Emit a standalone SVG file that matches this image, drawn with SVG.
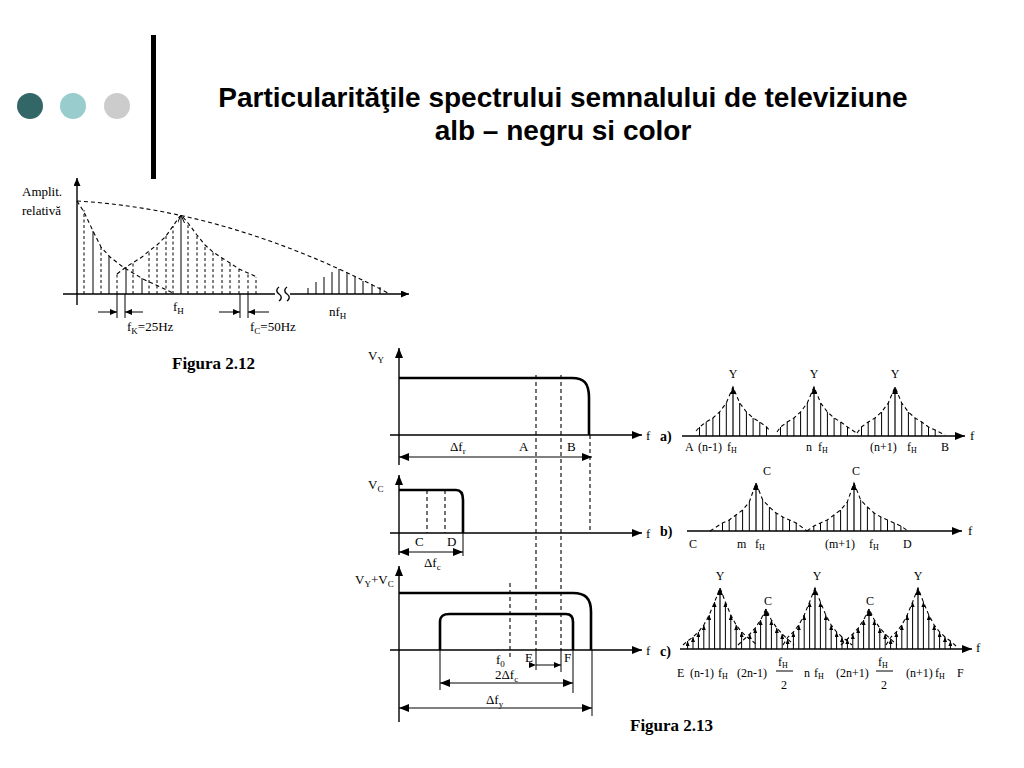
<svg xmlns="http://www.w3.org/2000/svg" width="1024" height="768" viewBox="0 0 1024 768">
<defs>
<style>
.t{font-family:"Liberation Serif","Times New Roman",serif;font-size:13px;fill:#000}
.s{font-family:"Liberation Serif","Times New Roman",serif;font-size:12px;fill:#000}
.b{font-family:"Liberation Serif","Times New Roman",serif;font-size:17px;font-weight:bold;fill:#000}
.lb{font-family:"Liberation Serif","Times New Roman",serif;font-size:14px;font-weight:bold;fill:#000}
.title{font-family:"Liberation Sans",Arial,sans-serif;font-size:28px;font-weight:bold;fill:#000;text-anchor:middle}
.ax{stroke:#000;stroke-width:1.4;fill:none}
.th{stroke:#000;stroke-width:2.6;fill:none}
.ln{stroke:#000;stroke-width:1;fill:none}
.dsh{stroke:#000;stroke-width:1.1;fill:none;stroke-dasharray:4 3}
.dv{stroke:#000;stroke-width:1;fill:none;stroke-dasharray:3 2.5}
.pk{stroke:#000;stroke-width:1.2;fill:none}
.cl{stroke:#000;stroke-width:1;fill:none}
</style>
<marker id="ah" viewBox="0 0 10 8" refX="10" refY="4" markerWidth="10" markerHeight="8" markerUnits="userSpaceOnUse" orient="auto-start-reverse"><path d="M0,0L10,4L0,8z" fill="#000"/></marker>
<marker id="ah7" viewBox="0 0 8 7" refX="8" refY="3.5" markerWidth="8" markerHeight="7" markerUnits="userSpaceOnUse" orient="auto-start-reverse"><path d="M0,0L8,3.5L0,7z" fill="#000"/></marker>
<marker id="av" viewBox="0 0 8 7" refX="8" refY="3.5" markerWidth="8" markerHeight="7" markerUnits="userSpaceOnUse" orient="auto"><path d="M0,0L8,3.5L0,7" fill="none" stroke="#000" stroke-width="1"/></marker>
<marker id="ap" viewBox="0 0 7 6" refX="7" refY="3" markerWidth="7" markerHeight="6" markerUnits="userSpaceOnUse" orient="auto"><path d="M0,0L7,3L0,6z" fill="#000"/></marker>
<marker id="at" viewBox="0 0 5 4" refX="5" refY="2" markerWidth="5" markerHeight="4" markerUnits="userSpaceOnUse" orient="auto"><path d="M0,0L5,2L0,4z" fill="#000"/></marker>
</defs>
<rect width="1024" height="768" fill="#fff"/>

<g id="header">
<circle cx="30" cy="106" r="13" fill="#336666"/>
<circle cx="73" cy="106" r="13" fill="#99CCCC"/>
<circle cx="117" cy="106" r="13" fill="#CCCCCC"/>
<rect x="151" y="35" width="5" height="144" fill="#000"/>
<text class="title" x="563" y="107">Particularităţile spectrului semnalului de televiziune</text>
<text class="title" x="563" y="140">alb – negru si color</text>
</g>

<g id="fig-2-12">
<text class="t" x="22" y="196">Amplit.</text>
<text class="t" x="22" y="215">relativă</text>
<line class="ax" x1="77" y1="305" x2="77" y2="178" marker-end="url(#ah7)"/>
<line class="ax" x1="63" y1="294" x2="275" y2="294"/>
<path class="ax" d="M279,287c-3,2 -3,5 0,7c3,2 3,5 0,7M287,287c-3,2 -3,5 0,7c3,2 3,5 0,7"/>
<line class="ax" x1="290" y1="294" x2="409" y2="294" marker-end="url(#ah7)"/>
<path class="dsh" d="M77,201Q230,210 388,293"/>
<polyline class="dsh" points="77,201 84,212 93,231 101,247 110,257 123,267 143,279 173,293"/>
<polyline class="dsh" points="117,274 126,267 142,257 149,251 157,245 166,236 173,226 180,216"/>
<polyline class="dsh" points="183,217 188,223 197,235 205,245 213,252 222,258 230,263 239,269 248,273 257,277"/>
<path class="dv" d="M84,294V210M101,294V247M117,294V274M133,294V262M149,294V251M157,294V245M166,294V236M173,294V226M188,294V223M197,294V235M205,294V245M213,294V252M222,294V258M230,294V263M239,294V269M248,294V273M256,294V277"/>
<path class="ln" d="M93,294V231M109,294V256M126,294V267M142,294V278M308,294V288M316,294V282M324,294V277M332,294V272M339,294V269M347,294V273M355,294V277M363,294V281M372,294V284M380,294V287"/>
<line class="ln" x1="181" y1="294" x2="181" y2="215" marker-end="url(#av)"/>
<path class="ln" d="M117,294V318M125,294V318M240,294V318M248,294V318"/>
<line class="ln" x1="98" y1="312" x2="117" y2="312" marker-end="url(#ap)"/>
<line class="ln" x1="143" y1="312" x2="125" y2="312" marker-end="url(#ap)"/>
<line class="ln" x1="219" y1="312" x2="240" y2="312" marker-end="url(#ap)"/>
<line class="ln" x1="269" y1="312" x2="248" y2="312" marker-end="url(#ap)"/>
<text class="t" x="173" y="311">f<tspan font-size="9" dy="3">H</tspan></text>
<text class="t" x="329" y="316">nf<tspan font-size="9" dy="3">H</tspan></text>
<text class="t" x="127" y="331">f<tspan font-size="9" dy="3">K</tspan><tspan dy="-3">=25Hz</tspan></text>
<text class="t" x="250" y="331">f<tspan font-size="9" dy="3">C</tspan><tspan dy="-3">=50Hz</tspan></text>
<text class="b" x="172" y="369">Figura 2.12</text>
</g>

<g id="fig-2-13-vy">
<line class="ax" x1="399" y1="465" x2="399" y2="348" marker-end="url(#ah)"/>
<text class="t" x="368" y="360">V<tspan font-size="9" dy="3">Y</tspan></text>
<line class="ax" x1="390" y1="435" x2="642" y2="435" marker-end="url(#ah)"/>
<text class="t" x="646" y="440">f</text>
<path class="th" d="M399,378H572C584,378 589,383 589,398V435"/>
<path class="dsh" d="M590,435V533"/>
<text class="t" x="450" y="451">Δf<tspan font-size="9" dy="3">r</tspan></text>
<text class="t" x="519" y="451">A</text>
<text class="t" x="567" y="451">B</text>
<line class="ln" x1="399" y1="457" x2="592" y2="457" marker-start="url(#ah)" marker-end="url(#ah)"/>
</g>

<g id="fig-2-13-vc">
<line class="ax" x1="399" y1="555" x2="399" y2="475" marker-end="url(#ah)"/>
<text class="t" x="368" y="489">V<tspan font-size="9" dy="3">C</tspan></text>
<line class="ax" x1="390" y1="533" x2="642" y2="533" marker-end="url(#ah)"/>
<text class="t" x="646" y="538">f</text>
<path class="th" d="M399,490H456C461,490 463,493 463,500V533"/>
<path class="dsh" d="M427,490V533M445,490V533"/>
<path class="ln" d="M463,533V556"/>
<text class="t" x="415" y="546">C</text>
<text class="t" x="447" y="546">D</text>
<line class="ln" x1="399" y1="552" x2="463" y2="552" marker-start="url(#ah)" marker-end="url(#ah)"/>
<text class="t" x="424" y="567">Δf<tspan font-size="9" dy="3">c</tspan></text>
</g>

<g id="fig-2-13-sum">
<line class="ax" x1="399" y1="722" x2="399" y2="566" marker-end="url(#ah)"/>
<text class="t" x="355" y="584">V<tspan font-size="9" dy="3">Y</tspan><tspan dy="-3">+V</tspan><tspan font-size="9" dy="3">C</tspan></text>
<line class="ax" x1="390" y1="650" x2="642" y2="650" marker-end="url(#ah)"/>
<text class="t" x="646" y="655">f</text>
<path class="th" d="M399,593H573C585,593 591,598 591,612V650"/>
<path class="th" d="M440,650V622C440,616 443,614 450,614H566C571,614 573,617 573,622V650"/>
<path class="dsh" d="M510,583V660"/>
<text class="t" x="496" y="664">f<tspan font-size="9" dy="3">0</tspan></text>
<path class="ln" d="M536,650V670M561,650V672M440,650V690M573,650V693M592,650V716"/>
<text class="t" x="525" y="662">E</text>
<text class="t" x="564" y="662">F</text>
<line class="ln" x1="536" y1="665" x2="561" y2="665" marker-start="url(#ap)" marker-end="url(#ap)"/>
<text class="t" x="495" y="679">2Δf<tspan font-size="9" dy="3">c</tspan></text>
<line class="ln" x1="440" y1="683" x2="573" y2="683" marker-start="url(#ah)" marker-end="url(#ah)"/>
<text class="t" x="486" y="704">Δf<tspan font-size="9" dy="3">y</tspan></text>
<line class="ln" x1="399" y1="708" x2="592" y2="708" marker-start="url(#ah)" marker-end="url(#ah)"/>
<text class="b" x="630" y="731">Figura 2.13</text>
</g>

<g id="connectors">
<path class="dsh" d="M536,375V650M561,375V650"/>
</g>

<g id="spectrum-a">
<text class="lb" x="660" y="441">a)</text>
<line class="ax" x1="682" y1="436" x2="965" y2="436" marker-end="url(#ah)"/>
<text class="t" x="970" y="440">f</text>
<path class="ln" d="M699.5,436V427M706.2,436V422M712.9,436V418M719.6,436V412M726.3,436V403M739.7,436V403M746.4,436V412M753.1,436V418M759.8,436V422M766.5,436V427M780.5,436V427M787.2,436V422M793.9,436V418M800.6,436V412M807.3,436V403M820.7,436V403M827.4,436V412M834.1,436V418M840.8,436V422M847.5,436V427M861.5,436V427M868.2,436V422M874.9,436V418M881.6,436V412M888.3,436V403M901.7,436V403M908.4,436V412M915.1,436V418M921.8,436V422M928.5,436V427M935.2,436V430"/>
<line class="pk" x1="733" y1="436" x2="733" y2="387" marker-end="url(#ap)"/>
<line class="pk" x1="814" y1="436" x2="814" y2="387" marker-end="url(#ap)"/>
<line class="pk" x1="895" y1="436" x2="895" y2="387" marker-end="url(#ap)"/>
<polyline class="dsh" points="696,431 699.5,427 706.2,422 712.9,418 719.6,412 726.3,403 733,387 739.7,403 746.4,412 753.1,418 759.8,422 766.5,427 770,431"/>
<polyline class="dsh" points="777,432 780.5,427 787.2,422 793.9,418 800.6,412 807.3,403 814,387 820.7,403 827.4,412 834.1,418 840.8,422 847.5,427 858,434"/>
<polyline class="dsh" points="857,433 861.5,427 868.2,422 874.9,418 881.6,412 888.3,403 895,387 901.7,403 908.4,412 915.1,418 921.8,422 928.5,427 935.2,430 945,435"/>
<text class="s" x="733" y="378" text-anchor="middle">Y</text>
<text class="s" x="814" y="378" text-anchor="middle">Y</text>
<text class="s" x="895" y="378" text-anchor="middle">Y</text>
<text class="s" x="685" y="451">A</text>
<text class="s" x="698" y="451">(n-1)</text>
<text class="s" x="727" y="451">f<tspan font-size="8" dy="2">H</tspan></text>
<text class="s" x="806" y="451">n</text>
<text class="s" x="818" y="451">f<tspan font-size="8" dy="2">H</tspan></text>
<text class="s" x="870" y="451">(n+1)</text>
<text class="s" x="907" y="451">f<tspan font-size="8" dy="2">H</tspan></text>
<text class="s" x="941" y="451">B</text>
</g>

<g id="spectrum-b">
<text class="lb" x="660" y="536">b)</text>
<line class="ax" x1="687" y1="531" x2="962" y2="531" marker-end="url(#ah)"/>
<text class="t" x="968" y="535">f</text>
<path class="ln" d="M722.5,531V523M729.2,531V520M735.9,531V515M742.6,531V510M749.3,531V502M762.7,531V500M769.4,531V507M776.1,531V513M782.8,531V517M789.5,531V520M796.2,531V523M813.8,531V526M820.5,531V523M827.2,531V520M833.9,531V515M840.6,531V510M847.3,531V502M860.7,531V500M867.4,531V507M874.1,531V513M880.8,531V517M887.5,531V520M894.2,531V523M900.9,531V526"/>
<line class="pk" x1="756" y1="531" x2="756" y2="483" marker-end="url(#ap)"/>
<line class="pk" x1="854" y1="531" x2="854" y2="483" marker-end="url(#ap)"/>
<polyline class="dsh" points="710,531 722.5,523 729.2,520 735.9,515 742.6,510 749.3,502 756,483 762.7,500 769.4,507 776.1,513 782.8,517 789.5,520 796.2,523 807,531"/>
<polyline class="dsh" points="807,531 813.8,526 820.5,523 827.2,520 833.9,515 840.6,510 847.3,502 854,483 860.7,500 867.4,507 874.1,513 880.8,517 887.5,520 894.2,523 900.9,526 908,531"/>
<text class="s" x="767" y="475" text-anchor="middle">C</text>
<text class="s" x="856" y="475" text-anchor="middle">C</text>
<text class="s" x="689" y="548">C</text>
<text class="s" x="737" y="548">m</text>
<text class="s" x="755" y="548">f<tspan font-size="8" dy="2">H</tspan></text>
<text class="s" x="825" y="548">(m+1)</text>
<text class="s" x="869" y="548">f<tspan font-size="8" dy="2">H</tspan></text>
<text class="s" x="903" y="548">D</text>
</g>

<g id="spectrum-c">
<text class="lb" x="660" y="656">c)</text>
<line class="ax" x1="680" y1="649" x2="972" y2="649" marker-end="url(#ah)"/>
<text class="t" x="976" y="652">f</text>
<g marker-end="url(#at)">
<line class="cl" x1="687.6" y1="649" x2="687.6" y2="641"/>
<line class="cl" x1="693" y1="649" x2="693" y2="637"/>
<line class="cl" x1="698.4" y1="649" x2="698.4" y2="632"/>
<line class="cl" x1="703.8" y1="649" x2="703.8" y2="625"/>
<line class="cl" x1="709.2" y1="649" x2="709.2" y2="615"/>
<line class="cl" x1="714.6" y1="649" x2="714.6" y2="602"/>
<line class="cl" x1="725.4" y1="649" x2="725.4" y2="602"/>
<line class="cl" x1="730.8" y1="649" x2="730.8" y2="615"/>
<line class="cl" x1="736.2" y1="649" x2="736.2" y2="625"/>
<line class="cl" x1="741.6" y1="649" x2="741.6" y2="632"/>
<line class="cl" x1="749.8" y1="649" x2="749.8" y2="634"/>
<line class="cl" x1="755.2" y1="649" x2="755.2" y2="628"/>
<line class="cl" x1="760.6" y1="649" x2="760.6" y2="620"/>
<line class="cl" x1="771.4" y1="649" x2="771.4" y2="620"/>
<line class="cl" x1="776.8" y1="649" x2="776.8" y2="628"/>
<line class="cl" x1="782.2" y1="649" x2="782.2" y2="634"/>
<line class="cl" x1="787.6" y1="649" x2="787.6" y2="639"/>
<line class="cl" x1="793.4" y1="649" x2="793.4" y2="632"/>
<line class="cl" x1="798.8" y1="649" x2="798.8" y2="625"/>
<line class="cl" x1="804.2" y1="649" x2="804.2" y2="615"/>
<line class="cl" x1="809.6" y1="649" x2="809.6" y2="602"/>
<line class="cl" x1="820.4" y1="649" x2="820.4" y2="602"/>
<line class="cl" x1="825.8" y1="649" x2="825.8" y2="615"/>
<line class="cl" x1="831.2" y1="649" x2="831.2" y2="625"/>
<line class="cl" x1="836.6" y1="649" x2="836.6" y2="632"/>
<line class="cl" x1="842" y1="649" x2="842" y2="637"/>
<line class="cl" x1="847.4" y1="649" x2="847.4" y2="639"/>
<line class="cl" x1="852.8" y1="649" x2="852.8" y2="634"/>
<line class="cl" x1="858.2" y1="649" x2="858.2" y2="628"/>
<line class="cl" x1="863.6" y1="649" x2="863.6" y2="620"/>
<line class="cl" x1="874.4" y1="649" x2="874.4" y2="620"/>
<line class="cl" x1="879.8" y1="649" x2="879.8" y2="628"/>
<line class="cl" x1="885.2" y1="649" x2="885.2" y2="634"/>
<line class="cl" x1="890.6" y1="649" x2="890.6" y2="639"/>
<line class="cl" x1="896.4" y1="649" x2="896.4" y2="632"/>
<line class="cl" x1="901.8" y1="649" x2="901.8" y2="625"/>
<line class="cl" x1="907.2" y1="649" x2="907.2" y2="615"/>
<line class="cl" x1="912.6" y1="649" x2="912.6" y2="602"/>
<line class="cl" x1="923.4" y1="649" x2="923.4" y2="602"/>
<line class="cl" x1="928.8" y1="649" x2="928.8" y2="615"/>
<line class="cl" x1="934.2" y1="649" x2="934.2" y2="625"/>
<line class="cl" x1="939.6" y1="649" x2="939.6" y2="632"/>
<line class="cl" x1="945" y1="649" x2="945" y2="637"/>
<line class="cl" x1="950.4" y1="649" x2="950.4" y2="641"/>
</g>
<g marker-end="url(#ap)">
<line class="pk" x1="720" y1="649" x2="720" y2="588"/>
<line class="pk" x1="815" y1="649" x2="815" y2="588"/>
<line class="pk" x1="918" y1="649" x2="918" y2="588"/>
<line class="pk" x1="766" y1="649" x2="766" y2="609"/>
<line class="pk" x1="869" y1="649" x2="869" y2="609"/>
</g>
<polyline class="dsh" points="683,645 687.6,641 693,637 698.4,632 703.8,625 709.2,615 714.6,602 720,588 725.4,602 730.8,615 736.2,625 741.6,632 747,637 752.4,641 757,645"/>
<polyline class="dsh" points="738,645 744.4,639 749.8,634 755.2,628 760.6,620 766,609 771.4,620 776.8,628 782.2,634 787.6,639 794,645"/>
<polyline class="dsh" points="783,645 788,637 793.4,632 798.8,625 804.2,615 809.6,602 815,588 820.4,602 825.8,615 831.2,625 836.6,632 842,637 847.4,641 852,645"/>
<polyline class="dsh" points="841,645 847.4,639 852.8,634 858.2,628 863.6,620 869,609 874.4,620 879.8,628 885.2,634 890.6,639 897,645"/>
<polyline class="dsh" points="886,645 891,637 896.4,632 901.8,625 907.2,615 912.6,602 918,588 923.4,602 928.8,615 934.2,625 939.6,632 945,637 950.4,641 956,646"/>
<text class="s" x="720" y="580" text-anchor="middle">Y</text>
<text class="s" x="817" y="580" text-anchor="middle">Y</text>
<text class="s" x="918" y="580" text-anchor="middle">Y</text>
<text class="s" x="768" y="605" text-anchor="middle">C</text>
<text class="s" x="870" y="605" text-anchor="middle">C</text>
<text class="s" x="677" y="677">E</text>
<text class="s" x="690" y="677">(n-1)</text>
<text class="s" x="718" y="677">f<tspan font-size="8" dy="2">H</tspan></text>
<text class="s" x="737" y="677">(2n-1)</text>
<text class="s" x="778" y="666">f<tspan font-size="8" dy="2">H</tspan></text>
<line class="ln" x1="776" y1="671" x2="793" y2="671"/>
<text class="s" x="781" y="689">2</text>
<text class="s" x="804" y="677">n</text>
<text class="s" x="814" y="677">f<tspan font-size="8" dy="2">H</tspan></text>
<text class="s" x="836" y="677">(2n+1)</text>
<text class="s" x="878" y="666">f<tspan font-size="8" dy="2">H</tspan></text>
<line class="ln" x1="876" y1="671" x2="893" y2="671"/>
<text class="s" x="881" y="689">2</text>
<text class="s" x="906" y="677">(n+1)</text>
<text class="s" x="935" y="677">f<tspan font-size="8" dy="2">H</tspan></text>
<text class="s" x="957" y="677">F</text>
</g>
</svg>
